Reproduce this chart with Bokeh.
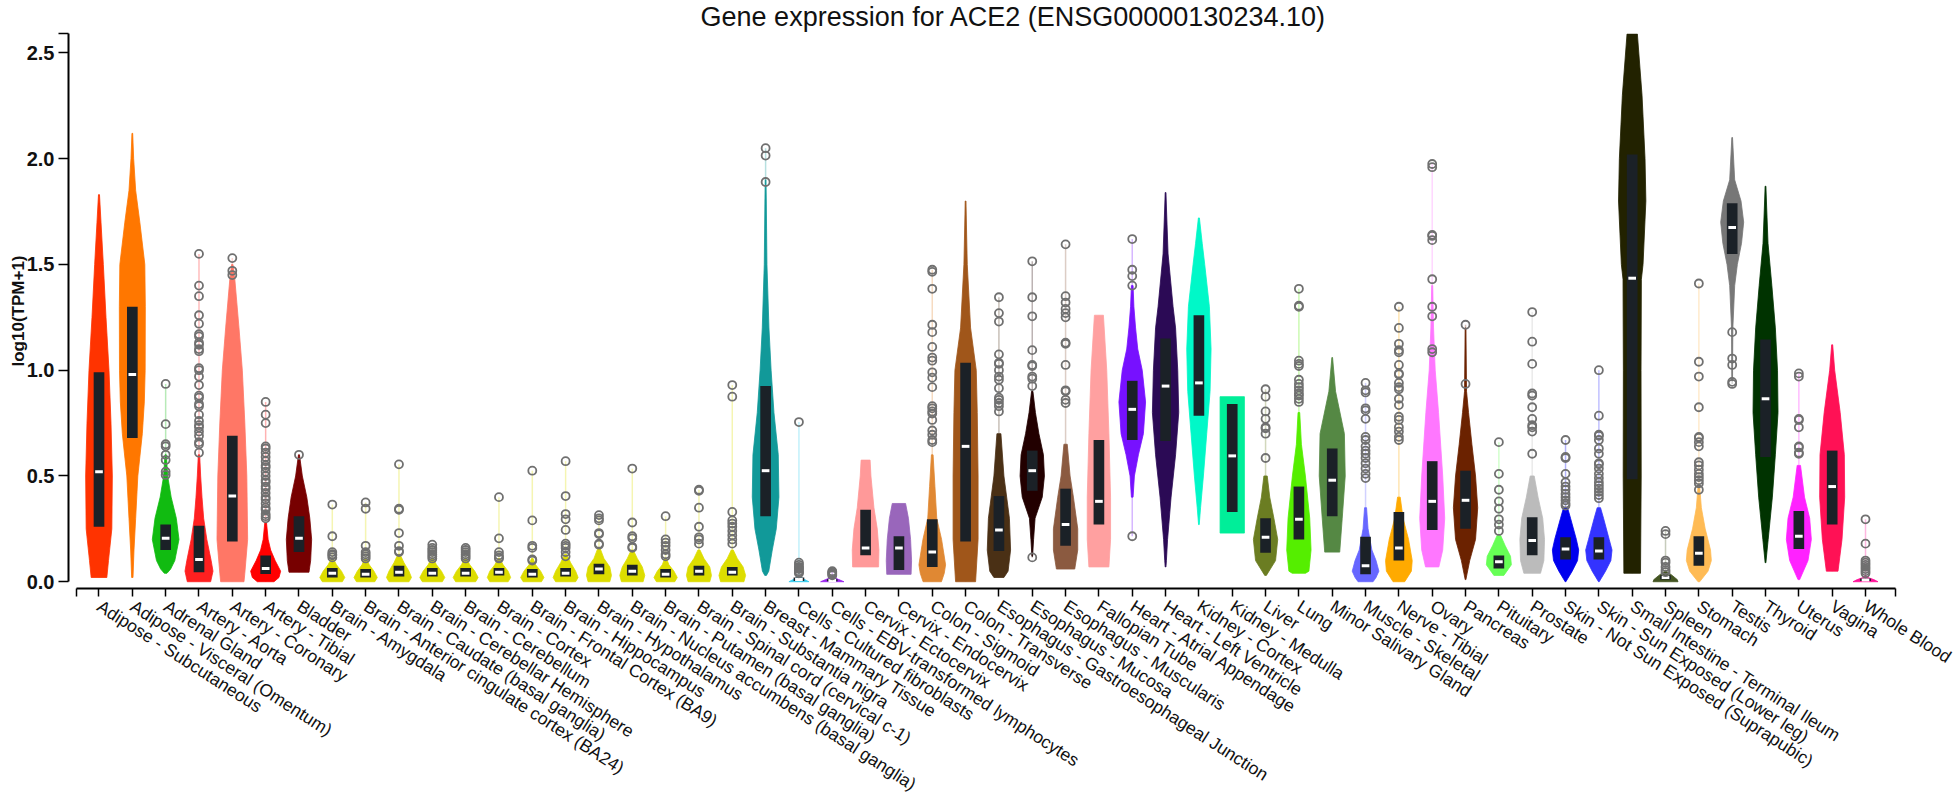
from bokeh.plotting import figure
from bokeh.models import Range1d, FixedTicker, ColumnDataSource, PrintfTickFormatter
from bokeh.embed import file_html
from bokeh.resources import INLINE

title_text = "Gene expression for ACE2 (ENSG00000130234.10)"
y_label = "log10(TPM+1)"

tissues = [
    "Adipose - Subcutaneous", "Adipose - Visceral (Omentum)", "Adrenal Gland",
    "Artery - Aorta", "Artery - Coronary", "Artery - Tibial", "Bladder",
    "Brain - Amygdala", "Brain - Anterior cingulate cortex (BA24)",
    "Brain - Caudate (basal ganglia)", "Brain - Cerebellar Hemisphere",
    "Brain - Cerebellum", "Brain - Cortex", "Brain - Frontal Cortex (BA9)",
    "Brain - Hippocampus", "Brain - Hypothalamus",
    "Brain - Nucleus accumbens (basal ganglia)", "Brain - Putamen (basal ganglia)",
    "Brain - Spinal cord (cervical c-1)", "Brain - Substantia nigra",
    "Breast - Mammary Tissue", "Cells - Cultured fibroblasts",
    "Cells - EBV-transformed lymphocytes", "Cervix - Ectocervix",
    "Cervix - Endocervix", "Colon - Sigmoid", "Colon - Transverse",
    "Esophagus - Gastroesophageal Junction", "Esophagus - Mucosa",
    "Esophagus - Muscularis", "Fallopian Tube", "Heart - Atrial Appendage",
    "Heart - Left Ventricle", "Kidney - Cortex", "Kidney - Medulla", "Liver",
    "Lung", "Minor Salivary Gland", "Muscle - Skeletal", "Nerve - Tibial",
    "Ovary", "Pancreas", "Pituitary", "Prostate",
    "Skin - Not Sun Exposed (Suprapubic)", "Skin - Sun Exposed (Lower leg)",
    "Small Intestine - Terminal Ileum", "Spleen", "Stomach", "Testis",
    "Thyroid", "Uterus", "Vagina", "Whole Blood",
]

colors = [
    "#ff3300", "#ff7700", "#11bb11", "#ff2020", "#ff7766", "#ff0000", "#770000",
    "#dddd00", "#dddd00", "#dddd00", "#dddd00", "#dddd00", "#dddd00", "#dddd00",
    "#dddd00", "#dddd00", "#dddd00", "#dddd00", "#dddd00", "#dddd00",
    "#119999", "#33ccee", "#9922ee", "#ff9999", "#9966bb", "#e08833", "#a0561a",
    "#4a3015", "#220000", "#8b5a40", "#ffa0a0", "#7711ff", "#2b0a55", "#00f8c8",
    "#00ee99", "#6b7d22", "#55ee00", "#558844", "#6666ff", "#ffaa00", "#ff77ff",
    "#6b2200", "#66ff55", "#bbbbbb", "#0000ee", "#3333ff", "#222200", "#445522",
    "#ffbb55", "#777777", "#003300", "#ff22ff", "#ff1155", "#ff1199",
]

q1 = [0.26, 0.68, 0.15, 0.045, 0.19, 0.036, 0.14,
      0.02, 0.02, 0.025, 0.025, 0.025, 0.03, 0.02, 0.025, 0.035, 0.03, 0.02, 0.03, 0.03,
      0.31, 0.003, 0.002, 0.125, 0.055, 0.07, 0.19, 0.145, 0.43, 0.17, 0.27, 0.67,
      0.665, 0.785, 0.33, 0.137, 0.2, 0.31, 0.035, 0.1, 0.245, 0.25, 0.063, 0.125,
      0.105, 0.105, 0.485, 0.01, 0.075, 1.55, 0.59, 0.155, 0.27, 0.003]
median = [0.52, 0.98, 0.205, 0.105, 0.405, 0.063, 0.205,
          0.04, 0.035, 0.045, 0.04, 0.04, 0.045, 0.035, 0.04, 0.06, 0.05, 0.035, 0.05, 0.045,
          0.525, 0.01, 0.006, 0.16, 0.16, 0.14, 0.64, 0.245, 0.525, 0.27, 0.38, 0.815,
          0.925, 0.94, 0.595, 0.21, 0.295, 0.48, 0.076, 0.16, 0.38, 0.385, 0.094, 0.195,
          0.155, 0.145, 1.435, 0.02, 0.135, 1.675, 0.865, 0.215, 0.45, 0.008]
q3 = [0.99, 1.30, 0.27, 0.265, 0.69, 0.124, 0.31,
      0.065, 0.06, 0.075, 0.065, 0.065, 0.065, 0.06, 0.065, 0.085, 0.08, 0.06, 0.075, 0.07,
      0.925, 0.02, 0.012, 0.34, 0.215, 0.295, 1.035, 0.405, 0.62, 0.44, 0.67, 0.95,
      1.15, 1.26, 0.84, 0.30, 0.45, 0.63, 0.213, 0.33, 0.57, 0.525, 0.124, 0.305,
      0.21, 0.21, 2.02, 0.03, 0.215, 1.79, 1.145, 0.335, 0.62, 0.015]

# violin outline: values (y) and full widths (in category units)
violin_y = [
    [0.02, 0.1, 0.25, 0.5, 0.75, 1.0, 1.25, 1.5, 1.7, 1.83],
    [0.02, 0.15, 0.3, 0.5, 0.7, 0.85, 1.0, 1.3, 1.5, 1.7, 1.85, 2.0, 2.12],
    [0.04, 0.06, 0.1, 0.2, 0.3, 0.4, 0.5, 0.6],
    [0.0, 0.05, 0.1, 0.2, 0.3, 0.4, 0.5, 0.6],
    [0.0, 0.04, 0.2, 0.5, 0.75, 1.0, 1.2, 1.43, 1.5],
    [0.0, 0.02, 0.05, 0.1, 0.15, 0.2, 0.28],
    [0.045, 0.1, 0.2, 0.3, 0.4, 0.5, 0.6],
    [0.0, 0.02, 0.05, 0.08, 0.11],
    [0.0, 0.02, 0.05, 0.08, 0.11],
    [0.0, 0.02, 0.05, 0.09, 0.13],
    [0.0, 0.02, 0.05, 0.08, 0.11],
    [0.0, 0.02, 0.05, 0.08, 0.11],
    [0.0, 0.02, 0.05, 0.08, 0.11],
    [0.0, 0.02, 0.05, 0.08, 0.11],
    [0.0, 0.02, 0.05, 0.09, 0.13],
    [0.0, 0.03, 0.07, 0.11, 0.16],
    [0.0, 0.03, 0.07, 0.11, 0.15],
    [0.0, 0.02, 0.05, 0.08, 0.11],
    [0.0, 0.03, 0.07, 0.11, 0.15],
    [0.0, 0.03, 0.07, 0.11, 0.15],
    [0.03, 0.05, 0.15, 0.25, 0.4, 0.6, 0.8, 1.0, 1.2, 1.5, 1.8, 1.9],
    [0.0, 0.01, 0.02, 0.03],
    [0.0, 0.01, 0.02, 0.03],
    [0.07, 0.15, 0.25, 0.35, 0.5, 0.575],
    [0.035, 0.1, 0.2, 0.3, 0.37],
    [0.0, 0.04, 0.08, 0.2, 0.3, 0.45, 0.6],
    [0.0, 0.2, 0.5, 0.8, 1.0, 1.2, 1.5, 1.8],
    [0.02, 0.05, 0.15, 0.3, 0.5, 0.7],
    [0.12, 0.2, 0.3, 0.4, 0.5, 0.6, 0.7, 0.8, 0.9],
    [0.06, 0.15, 0.25, 0.4, 0.5, 0.65],
    [0.07, 0.2, 0.4, 0.7, 1.0, 1.26],
    [0.4, 0.5, 0.6, 0.7, 0.85, 1.0, 1.1, 1.2, 1.3, 1.4],
    [0.07, 0.1, 0.2, 0.4, 0.6, 0.8, 1.0, 1.2, 1.3, 1.55, 1.84],
    [0.27, 0.35, 0.5, 0.7, 0.9, 1.1, 1.3, 1.5, 1.6, 1.72],
    [0.23, 0.875],
    [0.03, 0.1, 0.2, 0.3, 0.4, 0.5],
    [0.04, 0.05, 0.15, 0.3, 0.5, 0.65, 0.8],
    [0.14, 0.3, 0.5, 0.7, 0.9, 1.06],
    [0.0, 0.02, 0.05, 0.1, 0.15, 0.25, 0.35],
    [0.0, 0.05, 0.1, 0.2, 0.3, 0.4],
    [0.07, 0.15, 0.3, 0.5, 0.8, 1.0, 1.2, 1.4],
    [0.01, 0.1, 0.2, 0.35, 0.5, 0.65, 0.8, 0.9, 1.2],
    [0.03, 0.08, 0.12, 0.17, 0.22],
    [0.04, 0.1, 0.2, 0.3, 0.4, 0.5],
    [0.0, 0.05, 0.1, 0.15, 0.2, 0.3, 0.35],
    [0.0, 0.05, 0.1, 0.15, 0.2, 0.3, 0.35],
    [0.04, 0.5, 1.0, 1.43, 1.5, 1.8, 2.0, 2.3, 2.59],
    [0.0, 0.01, 0.03, 0.05],
    [0.0, 0.05, 0.1, 0.15, 0.25, 0.35, 0.45],
    [0.95, 1.2, 1.4, 1.5, 1.6, 1.7, 1.8, 1.9, 2.1],
    [0.09, 0.2, 0.4, 0.6, 0.8, 1.0, 1.2, 1.4, 1.6, 1.87],
    [0.01, 0.1, 0.2, 0.3, 0.4, 0.55],
    [0.05, 0.2, 0.4, 0.6, 0.8, 1.0, 1.12],
    [0.0, 0.01, 0.02, 0.03],
]
violin_w = [
    [0.47, 0.57, 0.77, 0.8, 0.72, 0.6, 0.42, 0.26, 0.12, 0.03],
    [0.04, 0.1, 0.2, 0.33, 0.6, 0.72, 0.77, 0.78, 0.75, 0.45, 0.2, 0.08, 0.02],
    [0.08, 0.3, 0.55, 0.8, 0.64, 0.33, 0.12, 0.04],
    [0.7, 0.84, 0.73, 0.47, 0.28, 0.18, 0.1, 0.04],
    [0.7, 0.75, 0.92, 0.87, 0.75, 0.6, 0.4, 0.15, 0.04],
    [0.5, 0.8, 0.9, 0.57, 0.3, 0.15, 0.05],
    [0.6, 0.7, 0.76, 0.65, 0.47, 0.2, 0.03],
    [0.6, 0.75, 0.55, 0.25, 0.06],
    [0.55, 0.7, 0.5, 0.22, 0.05],
    [0.6, 0.75, 0.6, 0.3, 0.06],
    [0.6, 0.75, 0.55, 0.25, 0.06],
    [0.6, 0.75, 0.55, 0.25, 0.06],
    [0.55, 0.7, 0.55, 0.25, 0.05],
    [0.55, 0.7, 0.5, 0.2, 0.05],
    [0.6, 0.75, 0.6, 0.3, 0.06],
    [0.65, 0.75, 0.65, 0.3, 0.06],
    [0.65, 0.75, 0.6, 0.3, 0.06],
    [0.55, 0.7, 0.5, 0.2, 0.05],
    [0.65, 0.75, 0.65, 0.3, 0.06],
    [0.7, 0.8, 0.65, 0.3, 0.06],
    [0.05, 0.19, 0.4, 0.64, 0.8, 0.76, 0.5, 0.33, 0.2, 0.08, 0.04, 0.02],
    [0.6, 0.35, 0.1, 0.03],
    [0.7, 0.4, 0.1, 0.03],
    [0.78, 0.8, 0.7, 0.5, 0.32, 0.27],
    [0.73, 0.76, 0.7, 0.57, 0.4],
    [0.55, 0.72, 0.8, 0.56, 0.27, 0.16, 0.05],
    [0.6, 0.75, 0.75, 0.7, 0.64, 0.3, 0.1, 0.02],
    [0.3, 0.55, 0.7, 0.63, 0.3, 0.12],
    [0.02, 0.08, 0.17, 0.6, 0.73, 0.67, 0.4, 0.19, 0.04],
    [0.55, 0.73, 0.73, 0.47, 0.27, 0.1],
    [0.6, 0.7, 0.7, 0.6, 0.47, 0.27],
    [0.05, 0.13, 0.37, 0.67, 0.8, 0.6, 0.33, 0.2, 0.1, 0.05],
    [0.02, 0.05, 0.12, 0.33, 0.6, 0.79, 0.73, 0.6, 0.45, 0.15, 0.02],
    [0.02, 0.1, 0.27, 0.47, 0.67, 0.73, 0.63, 0.35, 0.2, 0.03],
    [0.73, 0.73],
    [0.05, 0.6, 0.73, 0.5, 0.25, 0.1],
    [0.4, 0.6, 0.73, 0.65, 0.39, 0.15, 0.05],
    [0.45, 0.6, 0.78, 0.73, 0.2, 0.02],
    [0.45, 0.63, 0.8, 0.63, 0.38, 0.15, 0.06],
    [0.35, 0.75, 0.8, 0.58, 0.25, 0.08],
    [0.4, 0.63, 0.75, 0.63, 0.38, 0.18, 0.08, 0.03],
    [0.02, 0.25, 0.6, 0.73, 0.6, 0.38, 0.18, 0.06, 0.02],
    [0.3, 0.75, 0.7, 0.38, 0.1],
    [0.5, 0.7, 0.74, 0.63, 0.35, 0.12],
    [0.02, 0.4, 0.72, 0.79, 0.65, 0.3, 0.12],
    [0.02, 0.4, 0.72, 0.79, 0.62, 0.28, 0.1],
    [0.5, 0.54, 0.53, 0.55, 0.65, 0.82, 0.77, 0.59, 0.31],
    [0.75, 0.7, 0.4, 0.05],
    [0.05, 0.55, 0.75, 0.7, 0.38, 0.15, 0.05],
    [0.02, 0.04, 0.15, 0.31, 0.56, 0.69, 0.53, 0.15, 0.02],
    [0.02, 0.16, 0.41, 0.59, 0.75, 0.72, 0.59, 0.38, 0.15, 0.02],
    [0.05, 0.55, 0.75, 0.65, 0.34, 0.1],
    [0.35, 0.59, 0.75, 0.73, 0.48, 0.15, 0.03],
    [0.75, 0.5, 0.15, 0.03],
]

outliers = [
    [],
    [],
    [0.935, 0.745, 0.65, 0.64, 0.60, 0.575, 0.52, 0.505],
    [1.55, 1.40, 1.35, 1.26, 1.22, 1.17, 1.16, 1.13, 1.12, 1.10, 1.09, 1.01, 1.0, 0.97,
     0.93, 0.88, 0.87, 0.84, 0.83, 0.79, 0.76, 0.74, 0.73, 0.71, 0.69, 0.66, 0.65, 0.61],
    [1.53, 1.47, 1.45],
    [0.85, 0.79, 0.75, 0.64, 0.63, 0.61, 0.59, 0.57, 0.55, 0.54, 0.52, 0.50, 0.48, 0.47,
     0.45, 0.44, 0.42, 0.40, 0.39, 0.37, 0.35, 0.34, 0.32, 0.31, 0.30],
    [0.6],
    [0.365, 0.215, 0.14, 0.13, 0.125, 0.115],
    [0.375, 0.345, 0.17, 0.14, 0.13, 0.12, 0.11],
    [0.555, 0.345, 0.34, 0.23, 0.17, 0.145, 0.14],
    [0.175, 0.16, 0.15, 0.14, 0.13, 0.12, 0.11],
    [0.16, 0.15, 0.14, 0.13, 0.12, 0.11],
    [0.40, 0.205, 0.14, 0.125, 0.115, 0.11],
    [0.525, 0.29, 0.17, 0.16, 0.105, 0.1],
    [0.57, 0.405, 0.32, 0.295, 0.245, 0.18, 0.17, 0.16, 0.14, 0.12],
    [0.315, 0.3, 0.29, 0.23, 0.225, 0.18, 0.175],
    [0.535, 0.28, 0.215, 0.205, 0.165, 0.16],
    [0.31, 0.2, 0.185, 0.17, 0.15, 0.13, 0.12],
    [0.435, 0.43, 0.35, 0.26, 0.21, 0.2, 0.18],
    [0.93, 0.875, 0.33, 0.29, 0.275, 0.26, 0.24, 0.22, 0.2, 0.18],
    [2.05, 2.015, 1.89],
    [0.755, 0.09, 0.08, 0.07, 0.065, 0.06, 0.05, 0.045, 0.04],
    [0.05, 0.045, 0.04, 0.035, 0.03],
    [],
    [],
    [1.475, 1.465, 1.385, 1.215, 1.18, 1.11, 1.06, 1.045, 0.99, 0.965, 0.92, 0.83, 0.82,
     0.805, 0.795, 0.765, 0.715, 0.695, 0.67, 0.66],
    [],
    [1.345, 1.27, 1.23, 1.075, 1.035, 1.03, 1.0, 0.97, 0.955, 0.915, 0.87, 0.86, 0.845,
     0.83, 0.805],
    [1.515, 1.345, 1.255, 1.095, 1.025, 1.02, 0.97, 0.96, 0.925, 0.115],
    [1.595, 1.35, 1.32, 1.29, 1.27, 1.25, 1.13, 1.125, 1.025, 0.905, 0.9, 0.86, 0.845],
    [],
    [1.62, 1.475, 1.445, 1.4, 0.215],
    [],
    [],
    [],
    [0.91, 0.875, 0.805, 0.77, 0.73, 0.725, 0.70, 0.585],
    [1.385, 1.305, 1.30, 1.045, 1.03, 1.02, 0.955, 0.935, 0.92, 0.905, 0.89, 0.88, 0.865, 0.85],
    [],
    [0.94, 0.905, 0.895, 0.82, 0.81, 0.77, 0.685, 0.67, 0.64, 0.62, 0.605, 0.585, 0.56,
     0.535, 0.51, 0.49],
    [1.30, 1.20, 1.125, 1.095, 1.085, 1.025, 0.985, 0.98, 0.94, 0.92, 0.91, 0.865, 0.835,
     0.78, 0.765, 0.73, 0.71, 0.685, 0.67],
    [1.975, 1.96, 1.64, 1.635, 1.615, 1.43, 1.30, 1.255, 1.10, 1.085],
    [1.215, 0.935],
    [0.66, 0.51, 0.435, 0.38, 0.345, 0.295, 0.27, 0.24],
    [1.275, 1.135, 1.03, 0.89, 0.88, 0.825, 0.77, 0.74, 0.73, 0.71, 0.605],
    [0.67, 0.59, 0.585, 0.51, 0.47, 0.45, 0.435, 0.415, 0.40, 0.385, 0.37, 0.36],
    [1.0, 0.785, 0.695, 0.69, 0.67, 0.63, 0.605, 0.56, 0.555, 0.535, 0.51, 0.49, 0.47,
     0.455, 0.44, 0.425, 0.41, 0.395],
    [],
    [0.24, 0.225, 0.10, 0.09, 0.07, 0.055, 0.045],
    [1.41, 1.04, 0.97, 0.825, 0.685, 0.68, 0.66, 0.64, 0.565, 0.55, 0.53, 0.51, 0.495,
     0.48, 0.465, 0.435],
    [1.18, 1.055, 1.025, 0.945, 0.935],
    [],
    [0.985, 0.97, 0.77, 0.765, 0.73, 0.64, 0.635, 0.61, 0.605],
    [],
    [0.295, 0.18, 0.10, 0.09, 0.08, 0.07, 0.06, 0.05, 0.04],
]

y_ticks = [0.0, 0.5, 1.0, 1.5, 2.0, 2.5]
y_axis_top = 2.59

# ---------------------------------------------------------------- figure
FONT = "Liberation Sans"
n = len(tissues)
idx = list(range(n))
x_start, x_end = -0.915, 55.79
y_start, y_end = -0.032, 2.592
x_axis_lo, x_axis_hi = -0.675, n - 1 + 0.9

p = figure(width=1958, height=810,
           x_range=Range1d(x_start, x_end), y_range=Range1d(y_start, y_end),
           output_backend="svg", toolbar_location=None,
           min_border_left=68, min_border_right=0, min_border_top=33,
           min_border_bottom=222)
p.grid.visible = False
p.outline_line_color = None
p.background_fill_color = "white"

p.title.text = title_text
p.title.align = "center"
p.title.vertical_align = "top"
p.title.standoff = 0
p.title.text_font = FONT
p.title.text_font_size = "27px"
p.title.text_font_style = "normal"
p.title.text_color = "#111111"

# thin tails spanning all values of each tissue
tail_lo, tail_hi = [], []
for i in idx:
    vals = violin_y[i] + outliers[i]
    tail_lo.append(min(vals))
    tail_hi.append(max(vals))
p.segment(x0=idx, y0=tail_lo, x1=idx, y1=tail_hi, line_color=colors,
          line_alpha=0.3, line_width=1.5)

# violins
xs, ys = [], []
for i in idx:
    left = [i - w / 2 for w in violin_w[i]]
    right = [i + w / 2 for w in violin_w[i]]
    xs.append(left + right[::-1])
    ys.append(violin_y[i] + violin_y[i][::-1])
vsrc = ColumnDataSource(dict(xs=xs, ys=ys, color=colors))
p.patches(xs="xs", ys="ys", fill_color="color", line_color="color",
          line_width=1, line_alpha=0.8, source=vsrc)

# boxes and medians
p.vbar(x=idx, bottom=q1, top=q3, width=0.32, fill_color="#1b2127", line_color=None)
p.rect(x=idx, y=median, width=0.23, height=3, height_units="screen",
       fill_color="white", line_color=None)

# outliers
ox, oy = [], []
for i in idx:
    for v in outliers[i]:
        ox.append(i)
        oy.append(v)
p.scatter(ox, oy, size=8, marker="circle", fill_color=None,
          line_color="#707070", line_width=1.8)

# ---------------------------------------------------------------- axes
xa = p.xaxis[0]
x_ticks = [x_axis_lo] + idx + [x_axis_hi]
xa.ticker = FixedTicker(ticks=x_ticks, minor_ticks=[])
ov = {i: t for i, t in enumerate(tissues)}
ov[x_axis_lo] = ""
ov[x_axis_hi] = ""
xa.major_label_overrides = ov
xa.bounds = (x_axis_lo, x_axis_hi)
xa.major_label_orientation = -0.571
xa.major_label_text_font = FONT
xa.major_label_text_font_size = "17.6px"
xa.major_label_text_color = "#111111"
xa.major_label_standoff = 8
xa.major_tick_out = 8
xa.major_tick_in = 0
xa.minor_tick_line_color = None
xa.axis_line_width = 2
xa.major_tick_line_width = 1.5

ya = p.yaxis[0]
ya.ticker = FixedTicker(ticks=y_ticks + [y_axis_top], minor_ticks=[])
ya.formatter = PrintfTickFormatter(format="%.1f")
ya.major_label_overrides = {y_axis_top: ""}
ya.bounds = (0, y_axis_top)
ya.major_label_text_font = FONT
ya.major_label_text_font_size = "20px"
ya.major_label_text_font_style = "bold"
ya.major_label_text_color = "#111111"
ya.major_label_standoff = 4
ya.major_tick_out = 10
ya.major_tick_in = 0
ya.minor_tick_line_color = None
ya.axis_line_width = 2
ya.major_tick_line_width = 1.5
ya.axis_label = y_label
ya.axis_label_text_font = FONT
ya.axis_label_text_font_size = "17px"
ya.axis_label_text_font_style = "bold"
ya.axis_label_text_color = "#111111"
ya.axis_label_standoff = -4

open("out.html", "w").write(file_html(p, INLINE))
